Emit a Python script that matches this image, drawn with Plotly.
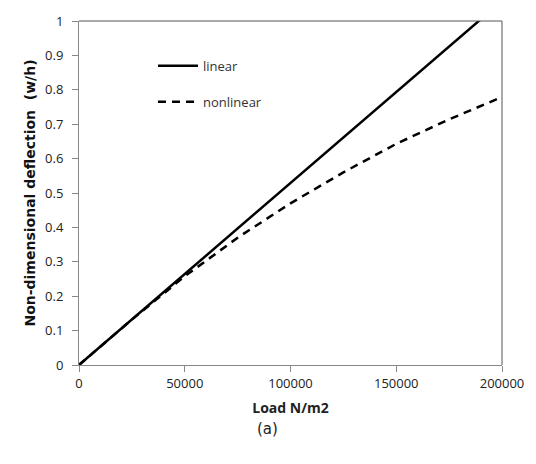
import plotly.graph_objects as go

load_linear = [0, 50000, 100000, 150000, 200000]
defl_linear = [0, 0.265, 0.529, 0.794, 1.058]

load_nonlinear = [0, 25000, 50000, 75000, 100000, 125000, 150000, 175000, 200000]
defl_nonlinear = [0, 0.132, 0.258, 0.37, 0.47, 0.56, 0.643, 0.714, 0.779]

x_ticks = [0, 50000, 100000, 150000, 200000]
y_ticks = [0, 0.1, 0.2, 0.3, 0.4, 0.5, 0.6, 0.7, 0.8, 0.9, 1]

font_family = "Open Sans, Liberation Sans, sans-serif"

fig = go.Figure()
fig.add_trace(go.Scatter(x=load_linear, y=defl_linear, mode="lines", name="linear",
                         line=dict(color="black", width=2.5), legend="legend"))
fig.add_trace(go.Scatter(x=load_nonlinear, y=defl_nonlinear, mode="lines", name="nonlinear",
                         line=dict(color="black", width=2.5, dash="8px,6px"), legend="legend2"))

legend_common = dict(bgcolor="rgba(0,0,0,0)", font=dict(family=font_family, size=13, color="#333"),
                     xanchor="left", yanchor="middle", itemwidth=40)

fig.update_layout(
    width=536, height=464,
    margin=dict(l=79, r=34, t=15, b=99),
    paper_bgcolor="white", plot_bgcolor="white",
    font=dict(family=font_family, color="#222"),
    showlegend=True,
    legend=dict(x=0.175, y=0.87, **legend_common),
    legend2=dict(x=0.175, y=0.765, **legend_common),
    xaxis=dict(range=[0, 200000], tickvals=x_ticks, ticktext=[str(v) for v in x_ticks],
               showgrid=False, zeroline=False, showline=True, linecolor="#888", linewidth=1,
               ticks="outside", ticklen=6, tickcolor="#888",
               tickfont=dict(size=13, color="#222"),
               title=dict(text="<b>Load N/m2</b>", font=dict(size=14, color="#222"), standoff=12)),
    yaxis=dict(range=[0, 1], tickvals=y_ticks, ticktext=[f"{v:g}" for v in y_ticks],
               showgrid=False, zeroline=False, showline=True, linecolor="#888", linewidth=1,
               ticks="outside", ticklen=6, tickcolor="#888", ticklabelstandoff=6,
               tickfont=dict(size=13, color="#222"),
               title=dict(text="<b>Non-dimensional deflection&nbsp; (w/h)</b>",
                          font=dict(family="DejaVu Sans, sans-serif", size=14, color="#111"), standoff=6)),
    shapes=[
        dict(type="line", xref="paper", yref="paper", x0=0, x1=1, y0=1, y1=1, line=dict(color="#555", width=1)),
        dict(type="line", xref="paper", yref="paper", x0=1, x1=1, y0=0, y1=1, line=dict(color="#555", width=1)),
    ],
    annotations=[
        dict(text="(a)", xref="paper", yref="paper", x=0.445, y=-0.155, yanchor="top", showarrow=False,
             font=dict(family="DejaVu Sans, sans-serif", size=15, color="#222")),
    ],
)

fig.write_html("out.html")
